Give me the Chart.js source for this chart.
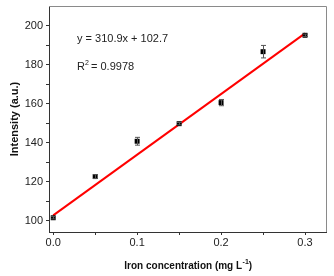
<!DOCTYPE html>
<html lang="en-US">
<head>
  <meta charset="utf-8">
  <title>Iron calibration</title>
  <script src="https://cdn.jsdelivr.net/npm/chart.js@4"></script>
  <style>
    html, body { margin: 0; padding: 0; background: #fff; }
    .wrapper { width: 334px; height: 276px; }
  </style>
</head>
<body>
  <div class="wrapper">
    <canvas id="chart-0" width="334" height="276"></canvas>
  </div>

  <script>
    // measured points
    let concentration = [0.0, 0.05, 0.1, 0.15, 0.2, 0.25, 0.3];
    let intensity = [101.5, 122.6, 140.7, 149.7, 160.5, 186.6, 195.0];
    let errors = [0.6, 1.0, 2.0, 0.6, 1.6, 3.2, 0.6];

    // fitted line end points
    let fitX = [0.0, 0.3];
    let fitY = [102.7, 196.0];

    let xTicks = [0, 0.05, 0.1, 0.15, 0.2, 0.25, 0.3];
    let yTicks = [100, 110, 120, 130, 140, 150, 160, 170, 180, 190, 200];

    let equationText = 'y = 310.9x + 102.7';
    let r2Value = '0.9978';

    let font = "'Liberation Sans', Arial, sans-serif";

    let extras = {
      id: 'extras',
      afterDatasetsDraw(chart) {
        let ctx = chart.ctx;
        let xs = chart.scales.x, ys = chart.scales.y;
        // error bars
        ctx.save();
        ctx.strokeStyle = '#555';
        ctx.lineWidth = 1;
        concentration.forEach(function(c, i) {
          let px = Math.round(xs.getPixelForValue(c)) + 0.5;
          let top = ys.getPixelForValue(intensity[i] + errors[i]);
          let bot = ys.getPixelForValue(intensity[i] - errors[i]);
          ctx.beginPath();
          ctx.moveTo(px, top); ctx.lineTo(px, bot);
          ctx.moveTo(px - 2.5, top); ctx.lineTo(px + 2.5, top);
          ctx.moveTo(px - 2.5, bot); ctx.lineTo(px + 2.5, bot);
          ctx.stroke();
        });
        ctx.restore();
      },
      afterDraw(chart) {
        let ctx = chart.ctx;
        let a = chart.chartArea;
        ctx.save();
        // top and right frame
        ctx.strokeStyle = '#8a8a8a';
        ctx.lineWidth = 1;
        ctx.beginPath();
        ctx.moveTo(a.left, a.top + 0.5); ctx.lineTo(a.right + 0.5, a.top + 0.5);
        ctx.lineTo(a.right + 0.5, a.bottom);
        ctx.stroke();
        // annotations
        ctx.fillStyle = '#222';
        ctx.font = '11px ' + font;
        ctx.textBaseline = 'middle';
        ctx.fillText(equationText, 77, 39);
        ctx.fillText('R', 77, 67);
        let rw = ctx.measureText('R').width;
        ctx.font = '7px ' + font;
        ctx.fillText('2', 77 + rw, 63);
        ctx.font = '11px ' + font;
        ctx.fillText(' = ' + r2Value, 77 + rw + 3, 67);
        // x axis title with superscript
        ctx.fillStyle = '#111';
        ctx.font = 'bold 10px ' + font;
        let main = 'Iron concentration (mg L';
        let sup = '-1';
        let tail = ')';
        let w1 = ctx.measureText(main).width;
        let w3 = ctx.measureText(tail).width;
        ctx.font = 'bold 7px ' + font;
        let w2 = ctx.measureText(sup).width;
        let x0 = 188 - (w1 + w2 + w3) / 2;
        ctx.font = 'bold 10px ' + font;
        ctx.fillText(main, x0, 266);
        ctx.fillText(tail, x0 + w1 + w2 + 0.5, 266);
        ctx.font = 'bold 7px ' + font;
        ctx.fillText(sup, x0 + w1 + 0.5, 262);
        ctx.restore();
      }
    };

    let chart = new Chart('chart-0', {
      type: 'scatter',
      data: {
        datasets: [
          {
            type: 'line',
            data: fitX.map(function(x, i) { return {x: x, y: fitY[i]}; }),
            borderColor: '#ff0000',
            borderWidth: 2,
            pointRadius: 0,
            fill: false,
            order: 2
          },
          {
            data: concentration.map(function(x, i) { return {x: x, y: intensity[i]}; }),
            pointStyle: 'rect',
            pointRadius: 3.5,
            backgroundColor: '#000',
            borderColor: '#000',
            borderWidth: 0,
            order: 1
          }
        ]
      },
      options: {
        responsive: false,
        animation: false,
        layout: { padding: { left: 0, right: 8, top: 6, bottom: 0 } },
        plugins: {
          legend: { display: false },
          tooltip: { enabled: false }
        },
        scales: {
          x: {
            type: 'linear',
            min: -0.005,
            max: 0.325,
            afterBuildTicks: function(s) { s.ticks = xTicks.map(function(v) { return {value: v}; }); },
            afterFit: function(s) {
              s.height = 44;
              s.paddingLeft = 0; s.paddingRight = 0;
            },
            border: { color: '#333', width: 1 },
            grid: { drawOnChartArea: false, tickLength: 3, tickColor: '#333' },
            ticks: {
              color: '#222',
              font: { family: font, size: 11 },
              padding: 1,
              maxRotation: 0,
              callback: function(v) {
                let r = Math.round(v * 100);
                return r % 10 === 0 ? (r / 100).toFixed(1) : '';
              }
            },
            title: { display: false }
          },
          y: {
            type: 'linear',
            min: 94.2,
            max: 210,
            afterBuildTicks: function(s) { s.ticks = yTicks.map(function(v) { return {value: v}; }); },
            afterFit: function(s) {
              s.width = 49;
              s.paddingTop = 0; s.paddingBottom = 0;
            },
            border: { color: '#333', width: 1 },
            grid: { drawOnChartArea: false, tickLength: 3, tickColor: '#333' },
            ticks: {
              color: '#222',
              font: { family: font, size: 11 },
              padding: 3,
              callback: function(v) { return v % 20 === 0 ? String(v) : ''; }
            },
            title: {
              display: true,
              text: 'Intensity (a.u.)',
              color: '#111',
              font: { family: font, size: 11, weight: 'bold' },
              padding: { top: 8, bottom: 0 }
            }
          }
        }
      },
      plugins: [extras]
    });
  </script>
</body>
</html>
